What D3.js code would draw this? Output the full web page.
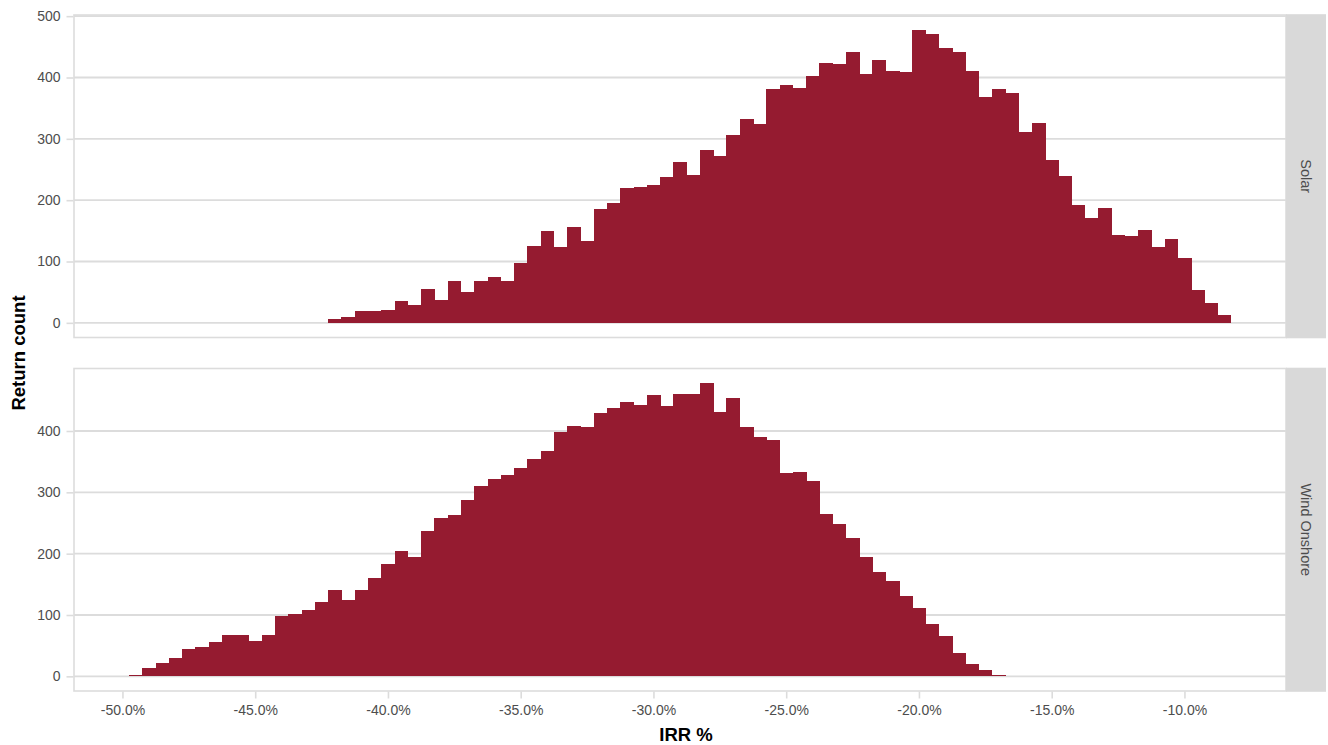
<!DOCTYPE html>
<html lang="en">
<head>
    <meta charset="UTF-8">
    <title>IRR histogram</title>
    <script src="https://d3js.org/d3.v7.min.js"></script>
    <style>
        body { margin: 0; background: #fff; }
        text { font-family: "Liberation Sans", Arial, sans-serif; }
    </style>
</head>
<body>
<script>

    // histogram bins: centre of bin i = binStart + i * binWidth
    var binStart = -49.5;
    var binWidth = 0.5;

    // Solar starts at bin 15 (-42.0%), Wind Onshore at bin 0 (-49.5%)
    var solarFirstBin = 15;
    var solarCounts = [6, 9, 19, 20, 21, 36, 29, 55, 38, 69, 51, 68, 74, 68, 98, 126,
        149, 124, 157, 134, 186, 196, 220, 221, 224, 238, 263, 241, 281, 272, 307, 333,
        325, 382, 387, 383, 402, 424, 422, 441, 406, 428, 411, 409, 478, 471, 448, 441,
        410, 368, 382, 374, 311, 326, 265, 240, 192, 171, 188, 143, 142, 152, 123, 137,
        106, 54, 32, 13];

    var windFirstBin = 0;
    var windCounts = [2, 13, 22, 30, 45, 48, 56, 68, 67, 58, 67, 98, 101, 108, 121, 141,
        125, 141, 160, 183, 205, 195, 237, 258, 263, 287, 310, 321, 328, 339, 355, 368,
        398, 408, 406, 430, 437, 448, 442, 459, 440, 460, 460, 478, 431, 453, 406, 391,
        385, 332, 333, 318, 265, 248, 225, 195, 170, 156, 131, 111, 85, 65, 38, 20, 10, 2];

    var facets = ["Solar", "Wind Onshore"];
    var xTicks = [-50, -45, -40, -35, -30, -25, -20, -15, -10];
    var yTicksSolar = [0, 100, 200, 300, 400, 500];
    var yTicksWind = [0, 100, 200, 300, 400];

    var width = 1328;
    var height = 745;

    var margin = {left: 74, right: 2, top: 15, bottom: 54, gap: 31};
    var stripW = 40;
    var panelH = (height - margin.top - margin.bottom - margin.gap) / 2;

    var fill = "#951B30";
    var gridColor = "#DCDCDC";
    var textColor = "#4D4D4D";
    var tickFont = "14px";

    var svg = d3.select("body").append("svg")
        .attr("width", width)
        .attr("height", height);

    // x scale with ggplot-like 5% expansion
    var dataMin = binStart - binWidth / 2;
    var dataMax = binStart + (solarFirstBin + solarCounts.length - 1) * binWidth + binWidth / 2;
    var pad = (dataMax - dataMin) * 0.05;
    var xScale = d3.scaleLinear()
        .domain([dataMin - pad, dataMax + pad])
        .range([margin.left, width - margin.right - stripW]);

    function makeBins(counts, first) {
        return counts.map(function (c, i) {
            var mid = binStart + (first + i) * binWidth;
            return {x0: mid - binWidth / 2, x1: mid + binWidth / 2, count: c};
        });
    }

    var panels = [
        {name: facets[0], bins: makeBins(solarCounts, solarFirstBin), ticks: yTicksSolar},
        {name: facets[1], bins: makeBins(windCounts, windFirstBin), ticks: yTicksWind}
    ];

    panels.forEach(function (p, k) {
        var top = margin.top + k * (panelH + margin.gap);
        var bottom = top + panelH;
        var maxC = d3.max(p.bins, function (d) { return d.count; });
        var yScale = d3.scaleLinear()
            .domain([-maxC * 0.05, maxC * 1.05])
            .range([bottom, top]);

        var g = svg.append("g");

        // horizontal gridlines
        g.selectAll(".grid")
            .data(p.ticks)
            .enter().append("line")
            .attr("x1", xScale.range()[0])
            .attr("x2", xScale.range()[1])
            .attr("y1", function (d) { return yScale(d); })
            .attr("y2", function (d) { return yScale(d); })
            .attr("stroke", gridColor)
            .attr("stroke-width", 1.8);

        // bars
        g.selectAll(".bar")
            .data(p.bins)
            .enter().append("rect")
            .attr("x", function (d) { return xScale(d.x0); })
            .attr("width", function (d) { return xScale(d.x1) - xScale(d.x0) + 0.5; })
            .attr("y", function (d) { return yScale(d.count); })
            .attr("height", function (d) { return yScale(0) - yScale(d.count); })
            .attr("fill", fill)
            .attr("shape-rendering", "crispEdges");

        // panel border
        g.append("rect")
            .attr("x", xScale.range()[0])
            .attr("y", top)
            .attr("width", xScale.range()[1] - xScale.range()[0])
            .attr("height", panelH)
            .attr("fill", "none")
            .attr("stroke", gridColor)
            .attr("stroke-width", 1.6);

        // strip
        var sx = xScale.range()[1];
        g.append("rect")
            .attr("x", sx)
            .attr("y", top - 0.8)
            .attr("width", stripW)
            .attr("height", panelH + 1.6)
            .attr("fill", "#D9D9D9");
        g.append("text")
            .attr("transform", "translate(" + (sx + stripW / 2) + "," + (top + panelH / 2) + ") rotate(90)")
            .attr("text-anchor", "middle")
            .attr("dy", "0.35em")
            .attr("font-size", "14.5px")
            .attr("fill", textColor)
            .text(p.name);

        // y axis
        var yAxis = d3.axisLeft(yScale).tickValues(p.ticks).tickSize(7).tickPadding(6);
        var ya = g.append("g")
            .attr("transform", "translate(" + (margin.left - 0.5) + ",0)")
            .call(yAxis);
        ya.select(".domain").remove();
        ya.selectAll("line").attr("stroke", gridColor).attr("stroke-width", 1.6);
        ya.selectAll("text").attr("fill", textColor).attr("font-size", tickFont)
            .attr("font-family", "Liberation Sans, Arial, sans-serif");

        if (k === 1) {
            var xAxis = d3.axisBottom(xScale)
                .tickValues(xTicks)
                .tickSize(7)
                .tickPadding(7)
                .tickFormat(function (d) { return d.toFixed(1) + "%"; });
            var xa = g.append("g")
                .attr("transform", "translate(0," + (bottom + 0.5) + ")")
                .call(xAxis);
            xa.select(".domain").remove();
            xa.selectAll("line").attr("stroke", gridColor).attr("stroke-width", 1.6);
            xa.selectAll("text").attr("fill", textColor).attr("font-size", tickFont)
                .attr("font-family", "Liberation Sans, Arial, sans-serif");
        }
    });

    // axis titles
    svg.append("text")
        .attr("x", (xScale.range()[0] + xScale.range()[1]) / 2 + 6)
        .attr("y", 741)
        .attr("text-anchor", "middle")
        .attr("font-size", "18.5px")
        .attr("font-weight", "bold")
        .attr("fill", "#000")
        .text("IRR %");

    svg.append("text")
        .attr("transform", "translate(25," + (margin.top + panelH + margin.gap / 2) + ") rotate(-90)")
        .attr("text-anchor", "middle")
        .attr("font-size", "18.5px")
        .attr("font-weight", "bold")
        .attr("fill", "#000")
        .text("Return count");

</script>
</body>
</html>
